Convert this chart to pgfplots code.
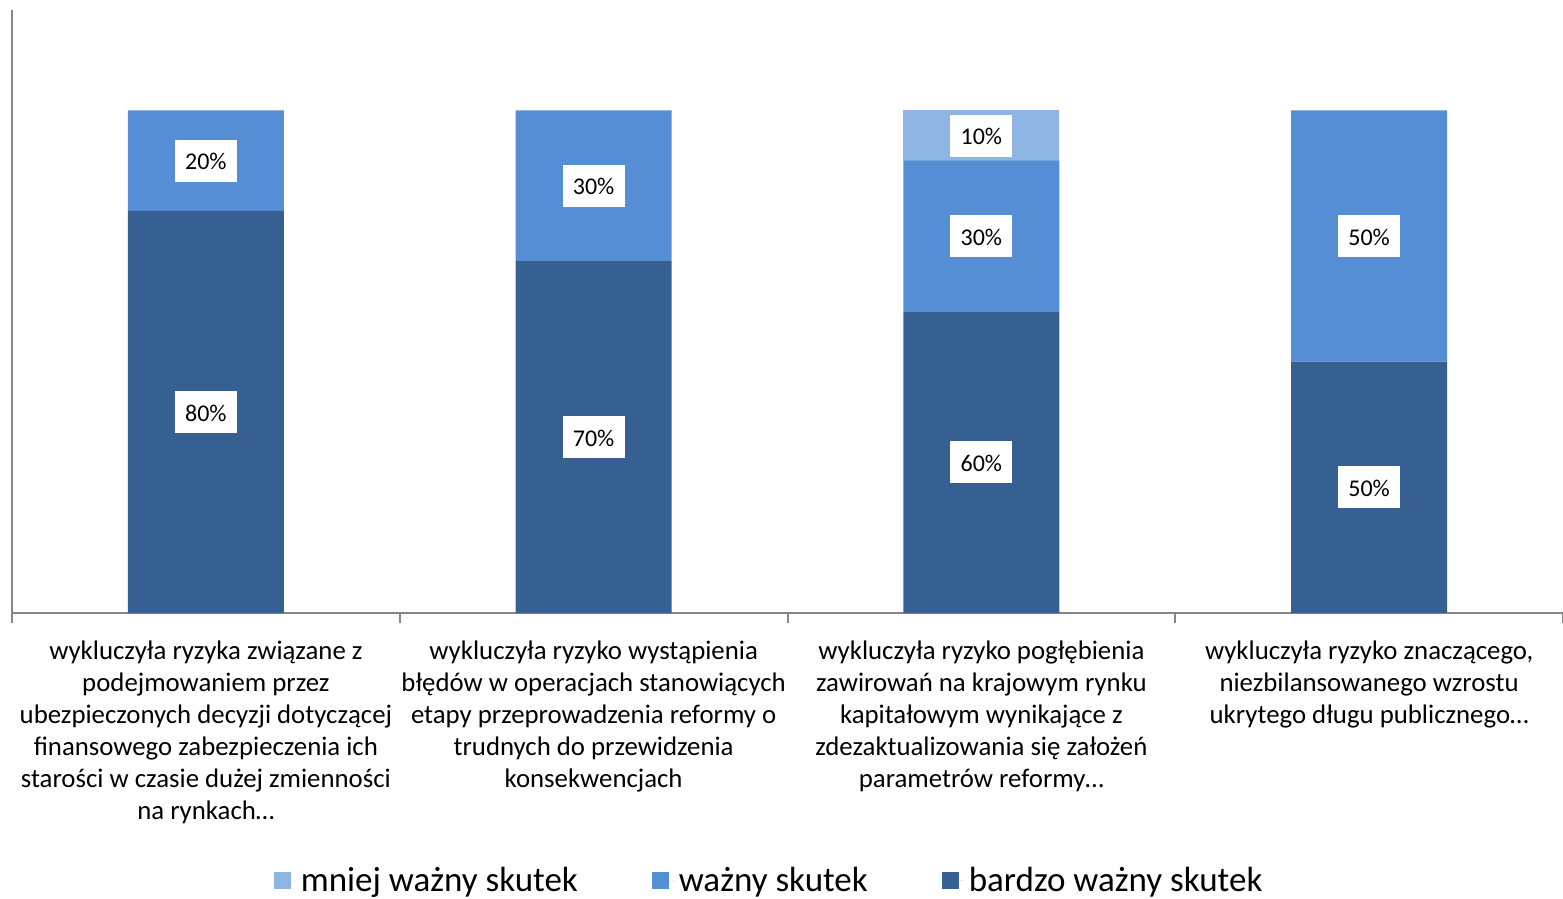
\documentclass[border=0pt]{standalone}
\usepackage{pgfplots}
\usepackage{pgfplotstable}
\usepackage{fontspec}
\setmainfont{Carlito}
\pgfplotsset{compat=1.18}
\definecolor{cdark}{RGB}{55,96,146}
\definecolor{cmid}{RGB}{85,142,213}
\definecolor{clight}{RGB}{142,180,227}
\definecolor{caxis}{RGB}{134,134,134}
\pgfplotstableread{
x dark mid light
0 80 20 0
1 70 30 0
2 60 30 10
3 50 50 0
}\data
\setlength{\fboxsep}{0pt}
\begin{document}
\begin{tikzpicture}
\begin{axis}[
  scale only axis,
  width=775.5pt, height=301.5pt,
  xmin=-0.5, xmax=3.5, ymin=0, ymax=120,
  ybar stacked, bar width=78pt,
  axis x line*=bottom, axis y line*=left,
  axis line style={caxis, line width=1pt, -},
  ytick=\empty,
  xtick={0,1,2,3},
  major tick length=0pt,
  xticklabels={
    {wykluczyła ryzyka związane z\\podejmowaniem przez\\ubezpieczonych decyzji dotyczącej\\finansowego zabezpieczenia ich\\starości w czasie dużej zmienności\\na rynkach…},
    {wykluczyła ryzyko wystąpienia\\błędów w operacjach stanowiących\\etapy przeprowadzenia reformy o\\trudnych do przewidzenia\\konsekwencjach},
    {wykluczyła ryzyko pogłębienia\\zawirowań na krajowym rynku\\kapitałowym wynikające z\\zdezaktualizowania się założeń\\parametrów reformy…},
    {wykluczyła ryzyko znaczącego,\\niezbilansowanego wzrostu\\ukrytego długu publicznego…}},
  xticklabel style={align=center, font=\fontsize{13.4}{16}\selectfont, anchor=north, yshift=-10.5pt},
  extra x ticks={-0.5,0.5,1.5,2.5,3.5},
  extra x tick labels={},
  extra x tick style={major tick length=5pt, tick align=outside, tick style={caxis, line width=1pt}},
  nodes near coords={\ifdim\val pt>0pt\colorbox{white}{\makebox[31pt]{\rule[-6pt]{0pt}{21pt}\pgfmathtruncatemacro\vv{\val}\vv\%}}\fi},
  every node near coord/.append style={anchor=center, inner sep=0pt, text=black,
     font=\fontsize{12}{14}\selectfont},
  legend columns=3,
  reverse legend,
  legend style={at={(0.4888,-0.4444)}, anchor=center, draw=none,
     font=\fontsize{17.5}{19}\selectfont,
     /tikz/every even column/.append style={column sep=35pt}},
  legend image code/.code={\fill[#1] (0pt,-4.25pt) rectangle (8.5pt,4.25pt); \path (0pt,0pt) -- (11.5pt,0pt);},
]
\addplot[fill=cdark, draw=none, visualization depends on={\thisrow{dark} \as \val}] table[x=x,y=dark]{\data};
\addlegendentry{bardzo ważny skutek}
\addplot[fill=cmid, draw=none, visualization depends on={\thisrow{mid} \as \val}] table[x=x,y=mid]{\data};
\addlegendentry{ważny skutek}
\addplot[fill=clight, draw=none, visualization depends on={\thisrow{light} \as \val}] table[x=x,y=light]{\data};
\addlegendentry{mniej ważny skutek}
\end{axis}
\pgfresetboundingbox
\path (-6pt,-143pt) rectangle (775.5pt,306.5pt);
\end{tikzpicture}
\end{document}
